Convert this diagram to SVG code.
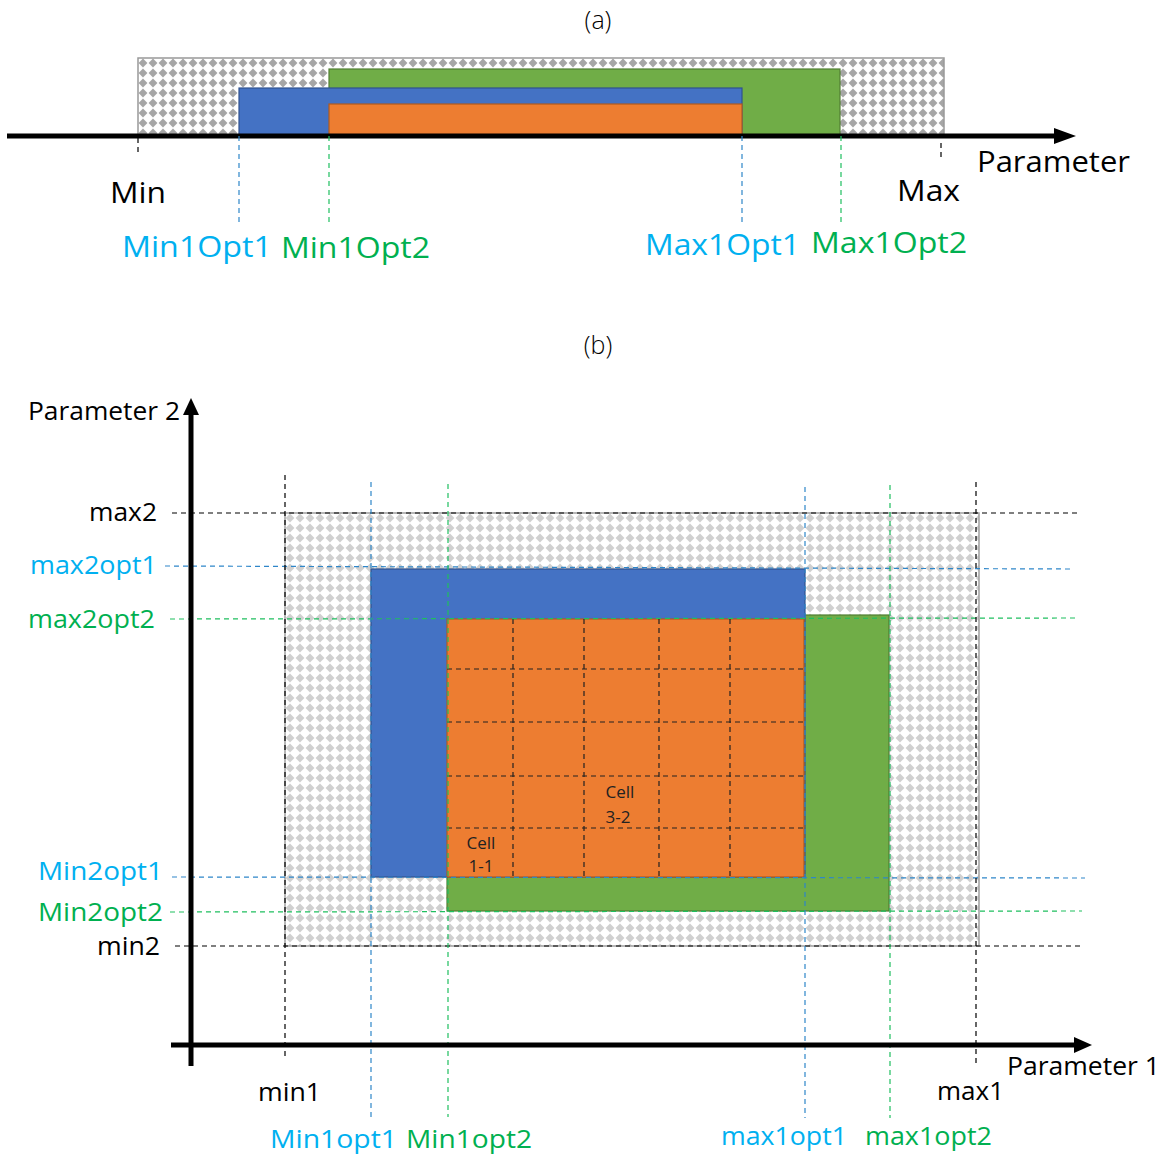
<svg xmlns="http://www.w3.org/2000/svg" width="1168" height="1155" viewBox="0 0 1168 1155">
<defs>
<pattern id="chkA" width="10" height="10" patternUnits="userSpaceOnUse" x="138" y="58">
<rect width="10" height="10" fill="#fff"/>
<polygon points="5,0.6 9.4,5 5,9.4 0.6,5" fill="#a6a6a6"/>
</pattern>
<pattern id="chkB" width="10" height="10" patternUnits="userSpaceOnUse" x="285" y="513">
<rect width="10" height="10" fill="#fff"/>
<polygon points="5,0.6 9.4,5 5,9.4 0.6,5" fill="#d0d0d0"/>
</pattern>
</defs>
<style>
text{font-family:"Open Sans","Noto Sans","Liberation Sans",sans-serif;}
.t{fill:#000;}
.c{fill:#00b0f0;}
.g{fill:#00b050;}
.lk{stroke:#000;stroke-width:1.2;stroke-dasharray:5,4;fill:none;}
.lb{stroke:#2e86c9;stroke-width:1.2;stroke-dasharray:5,4;fill:none;}
.lg{stroke:#1fbf5f;stroke-width:1.2;stroke-dasharray:5,4;fill:none;}
.gl{stroke:#222;stroke-width:1.2;stroke-dasharray:5,4;fill:none;}
.ax{stroke:#000;stroke-width:5;fill:none;}
.blue{fill:#4472c4;stroke:#2f528f;stroke-width:1.2;}
.orange{fill:#ed7d31;stroke:#ae5a21;stroke-width:1.2;}
.green{fill:#70ad47;stroke:#507e32;stroke-width:1.2;}
</style>
<rect width="1168" height="1155" fill="#fff"/>

<!-- (a) -->
<g id="panel-a">
<text x="598" y="29" font-size="25" text-anchor="middle" font-weight="300" class="t">(a)</text>
<g id="a-range"><rect x="138" y="58" width="806" height="77" fill="url(#chkA)" stroke="#999" stroke-width="1.5"/></g>
<g id="a-opt2"><rect x="329" y="69" width="511" height="66" class="green"/></g>
<g id="a-opt1"><rect x="239" y="88" width="503" height="47" class="blue"/></g>
<g id="a-both"><rect x="329" y="104" width="413" height="31" class="orange"/></g>
<g id="a-connectors">
<line x1="7" y1="136" x2="1058" y2="136" class="ax"/>
<polygon points="1054,128 1076,136 1054,144" fill="#000"/>
<line x1="138" y1="138" x2="138" y2="156" class="lk"/>
<line x1="941" y1="143" x2="941" y2="161" class="lk"/>
<line x1="239" y1="136" x2="239" y2="222" class="lb"/>
<line x1="329" y1="136" x2="329" y2="222" class="lg"/>
<line x1="742" y1="136" x2="742" y2="222" class="lb"/>
<line x1="841" y1="136" x2="841" y2="222" class="lg"/>
</g>
<text x="110" y="203" font-size="30" textLength="56" lengthAdjust="spacingAndGlyphs" class="t">Min</text>
<text x="897" y="201" font-size="30" textLength="63" lengthAdjust="spacingAndGlyphs" class="t">Max</text>
<text x="977" y="172" font-size="30" textLength="153" lengthAdjust="spacingAndGlyphs" class="t">Parameter</text>
<text x="122" y="257" font-size="30" textLength="150" lengthAdjust="spacingAndGlyphs" class="c">Min1Opt1</text>
<text x="281" y="258" font-size="30" textLength="149" lengthAdjust="spacingAndGlyphs" class="g">Min1Opt2</text>
<text x="645" y="255" font-size="30" textLength="155" lengthAdjust="spacingAndGlyphs" class="c">Max1Opt1</text>
<text x="811" y="253" font-size="30" textLength="156" lengthAdjust="spacingAndGlyphs" class="g">Max1Opt2</text>
</g>

<!-- (b) -->
<g id="panel-b">
<text x="598" y="354" font-size="25" text-anchor="middle" font-weight="300" class="t">(b)</text>
<g id="b-range"><rect x="285" y="513" width="694" height="433" fill="url(#chkB)" stroke="#a0a0a0" stroke-width="1.5"/></g>
<g id="b-opt2"><rect x="447" y="615" width="442" height="296" class="green"/></g>
<g id="b-opt1"><rect x="371" y="569" width="434" height="308" class="blue"/></g>
<g id="b-both"><rect x="447" y="619" width="357" height="258" class="orange"/></g>
<g id="b-grid">
<line x1="513" y1="619" x2="513" y2="877" class="gl"/>
<line x1="584" y1="619" x2="584" y2="877" class="gl"/>
<line x1="659" y1="619" x2="659" y2="877" class="gl"/>
<line x1="730" y1="619" x2="730" y2="877" class="gl"/>
<line x1="447" y1="669" x2="804" y2="669" class="gl"/>
<line x1="447" y1="722" x2="804" y2="722" class="gl"/>
<line x1="447" y1="776" x2="804" y2="776" class="gl"/>
<line x1="447" y1="828" x2="804" y2="828" class="gl"/>
</g>
<g id="cell-1-1">
<text x="481" y="849" font-size="17" text-anchor="middle" fill="#222">Cell</text>
<text x="481" y="872" font-size="17" text-anchor="middle" fill="#222">1-1</text>
</g>
<g id="cell-3-2">
<text x="620" y="798" font-size="17" text-anchor="middle" fill="#222">Cell</text>
<text x="618" y="823" font-size="17" text-anchor="middle" fill="#222">3-2</text>
</g>
<g id="b-connectors">
<line x1="172" y1="513" x2="1080" y2="513" class="lk"/>
<line x1="165" y1="566" x2="1070" y2="569" class="lb"/>
<line x1="170" y1="619" x2="1078" y2="618" class="lg"/>
<line x1="172" y1="877" x2="1085" y2="878" class="lb"/>
<line x1="170" y1="912" x2="1082" y2="911" class="lg"/>
<line x1="175" y1="946" x2="1082" y2="946" class="lk"/>
<line x1="285" y1="475" x2="285" y2="1060" class="lk"/>
<line x1="371" y1="482" x2="371" y2="1117" class="lb"/>
<line x1="448" y1="484" x2="448" y2="1117" class="lg"/>
<line x1="805" y1="487" x2="805" y2="1118" class="lb"/>
<line x1="890" y1="485" x2="890" y2="1118" class="lg"/>
<line x1="976" y1="482" x2="976" y2="1065" class="lk"/>
<line x1="191" y1="1066" x2="191" y2="412" class="ax"/>
<polygon points="183,415 191,398 199,415" fill="#000"/>
<line x1="171" y1="1045" x2="1076" y2="1045" class="ax"/>
<polygon points="1074,1037 1092,1045 1074,1053" fill="#000"/>
</g>
<text x="28" y="420" font-size="26" textLength="152" lengthAdjust="spacingAndGlyphs" class="t">Parameter 2</text>
<text x="89" y="521" font-size="26" textLength="68" lengthAdjust="spacingAndGlyphs" class="t">max2</text>
<text x="30" y="574" font-size="26" textLength="127" lengthAdjust="spacingAndGlyphs" class="c">max2opt1</text>
<text x="28" y="628" font-size="26" textLength="127" lengthAdjust="spacingAndGlyphs" class="g">max2opt2</text>
<text x="38" y="880" font-size="26" textLength="125" lengthAdjust="spacingAndGlyphs" class="c">Min2opt1</text>
<text x="38" y="921" font-size="26" textLength="125" lengthAdjust="spacingAndGlyphs" class="g">Min2opt2</text>
<text x="97" y="955" font-size="26" textLength="63" lengthAdjust="spacingAndGlyphs" class="t">min2</text>
<text x="258" y="1101" font-size="26" textLength="63" lengthAdjust="spacingAndGlyphs" class="t">min1</text>
<text x="270" y="1148" font-size="26" textLength="127" lengthAdjust="spacingAndGlyphs" class="c">Min1opt1</text>
<text x="406" y="1148" font-size="26" textLength="126" lengthAdjust="spacingAndGlyphs" class="g">Min1opt2</text>
<text x="721" y="1145" font-size="26" textLength="126" lengthAdjust="spacingAndGlyphs" class="c">max1opt1</text>
<text x="865" y="1145" font-size="26" textLength="127" lengthAdjust="spacingAndGlyphs" class="g">max1opt2</text>
<text x="937" y="1100" font-size="26" textLength="67" lengthAdjust="spacingAndGlyphs" class="t">max1</text>
<text x="1007" y="1075" font-size="26" textLength="153" lengthAdjust="spacingAndGlyphs" class="t">Parameter 1</text>
</g>
</svg>
